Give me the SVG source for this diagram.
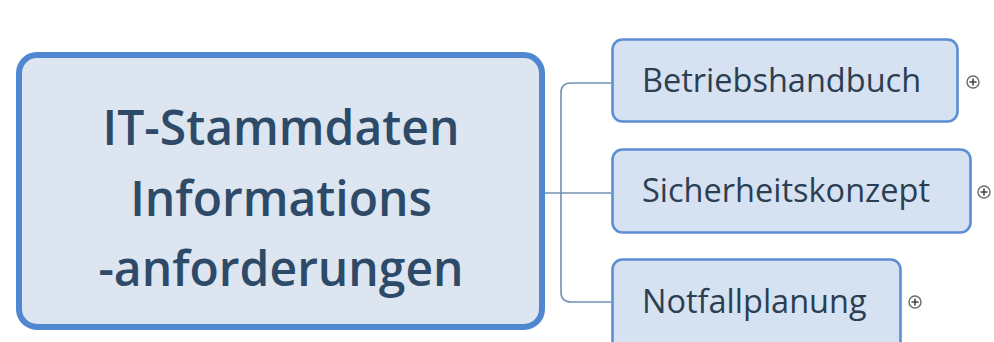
<svg xmlns="http://www.w3.org/2000/svg" width="994" height="342" viewBox="0 0 994 342">
  <style>
    .main { fill: #dce5f0; stroke: #4f88d0; stroke-width: 6; }
    .child { fill: #d6e2f1; stroke: #5b8ed2; stroke-width: 2.6; }
    .mt { font-family: "Open Sans", "Liberation Sans", sans-serif; font-size: 48px; font-weight: 600; fill: #2d4a68; text-anchor: middle; }
    .ct { font-family: "Open Sans", "Liberation Sans", sans-serif; font-size: 32.5px; fill: #2b3e52; }
    .conn { fill: none; stroke: #7390b5; stroke-width: 1.6; }
    .plus circle { fill: #ffffff; stroke: #6a6a6a; stroke-width: 1.4; }
    .plus path { stroke: #444444; stroke-width: 1.6; fill: none; }
  </style>
  <rect width="994" height="342" fill="#ffffff"/>
  <g id="connectors">
    <path class="conn" d="M545 193 H611"/>
    <path class="conn" d="M611 83 H571 Q561 83 561 93 V292 Q561 302 571 302 H611"/>
  </g>
  <g id="node-main">
    <rect class="main" x="19" y="55" width="523" height="272" rx="18"/>
    <text class="mt" x="281" y="145">IT-Stammdaten</text>
    <text class="mt" x="281" y="216">Informations</text>
    <text class="mt" x="281" y="286">-anforderungen</text>
  </g>
  <g id="node-betriebshandbuch">
    <rect class="child" x="612.5" y="39.5" width="345" height="82" rx="10"/>
    <text class="ct" x="642" y="92">Betriebshandbuch</text>
    <g class="plus"><circle cx="973" cy="82" r="6"/><path d="M969.5 82 H976.5 M973 78.5 V85.5"/></g>
  </g>
  <g id="node-sicherheitskonzept">
    <rect class="child" x="612.5" y="149.5" width="358" height="83" rx="10"/>
    <text class="ct" x="642" y="202">Sicherheitskonzept</text>
    <g class="plus"><circle cx="984" cy="192" r="6"/><path d="M980.5 192 H987.5 M984 188.5 V195.5"/></g>
  </g>
  <g id="node-notfallplanung">
    <rect class="child" x="612.5" y="259.5" width="288" height="95" rx="10"/>
    <text class="ct" x="642" y="313">Notfallplanung</text>
    <g class="plus"><circle cx="915" cy="302" r="6"/><path d="M911.5 302 H918.5 M915 298.5 V305.5"/></g>
  </g>
</svg>
